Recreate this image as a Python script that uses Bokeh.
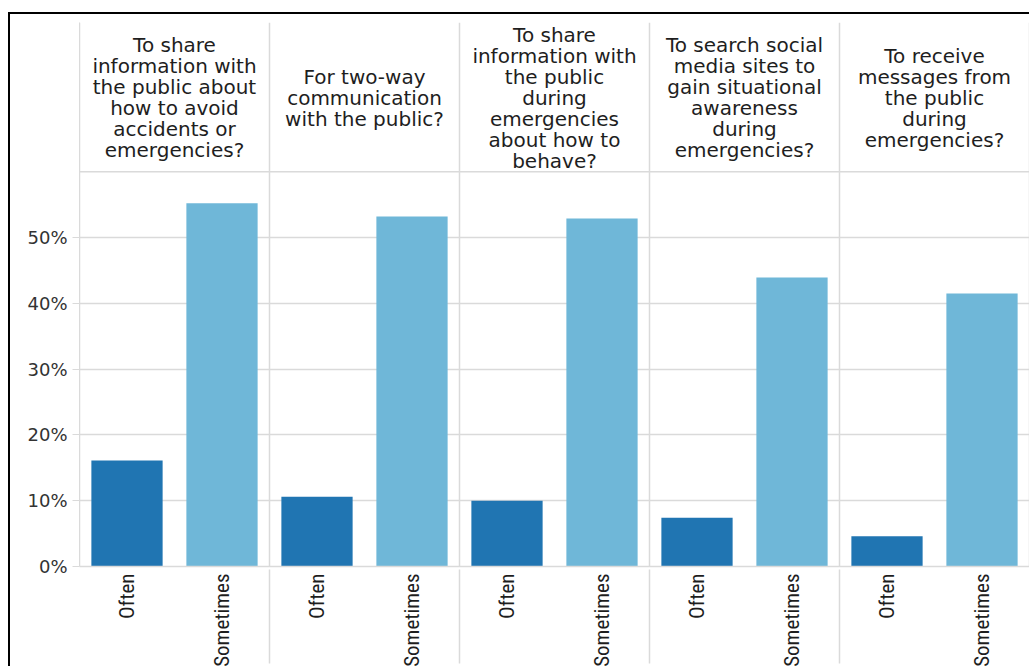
from math import pi
from bokeh.plotting import figure
from bokeh.models import FactorRange, Range1d, FixedTicker, NumeralTickFormatter, Span, ColumnDataSource
from bokeh.core.properties import value
from bokeh.embed import file_html
from bokeh.resources import INLINE

# ---- data ----
groups = ["Q1", "Q2", "Q3", "Q4", "Q5"]
headers = [
    "To share\ninformation with\nthe public about\nhow to avoid\naccidents or\nemergencies?",
    "For two-way\ncommunication\nwith the public?",
    "To share\ninformation with\nthe public\nduring\nemergencies\nabout how to\nbehave?",
    "To search social\nmedia sites to\ngain situational\nawareness\nduring\nemergencies?",
    "To receive\nmessages from\nthe public\nduring\nemergencies?",
]
categories = ["Often", "Sometimes"]
often = [0.161, 0.106, 0.100, 0.074, 0.046]
sometimes = [0.552, 0.532, 0.529, 0.439, 0.415]
y_ticks = [0, 0.1, 0.2, 0.3, 0.4, 0.5]

# ---- styles ----
C_OFTEN = "#2075b2"
C_SOMETIMES = "#6fb7d8"
GRID = "#dadada"

factors = [(g, c) for g in groups for c in categories]
x_range = FactorRange(factors=factors, group_padding=0, factor_padding=0,
                      subgroup_padding=0, range_padding=0)

p = figure(x_range=x_range, y_range=Range1d(0, 0.8267),
           frame_width=950, frame_height=544,
           min_border_left=69, min_border_right=0, min_border_top=8, min_border_bottom=100,
           output_backend="svg", toolbar_location=None, outline_line_color=None)
p.styles = {"border-top": "2px solid black", "border-left": "2px solid black",
            "margin-top": "12px", "margin-left": "8px"}

bar_x, bar_top, bar_color = [], [], []
for g, o, s in zip(groups, often, sometimes):
    bar_x += [(g, "Often"), (g, "Sometimes")]
    bar_top += [o, s]
    bar_color += [C_OFTEN, C_SOMETIMES]
bars = ColumnDataSource(dict(x=bar_x, top=bar_top, color=bar_color))
p.vbar(x="x", top="top", width=0.75, color="color", line_color=None, source=bars)

# panel separators and header rule
for i in range(len(groups) + 1):
    p.add_layout(Span(location=2 * i, dimension="height", line_color=GRID, line_width=1.5))
p.add_layout(Span(location=0.6, dimension="width", line_color=GRID, line_width=1.5))

hdr = ColumnDataSource(dict(x=[[g, "Often", 0.5] for g in groups],
                            y=[0.712] * len(groups), text=headers))
p.text(x="x", y="y", text="text", source=hdr, text_align="center", text_baseline="middle",
       text_font=value("DejaVu Sans"), text_font_size="20px", text_line_height=0.875,
       text_color="#1e1e1e")

# y axis
p.yaxis.ticker = FixedTicker(ticks=y_ticks)
p.yaxis.formatter = NumeralTickFormatter(format="0%")
p.yaxis.major_label_text_font = "DejaVu Sans"
p.yaxis.major_label_text_font_size = "18px"
p.yaxis.major_label_text_color = "#333333"
p.yaxis.axis_line_color = GRID
p.yaxis.major_tick_line_color = GRID
p.yaxis.major_tick_out = 7
p.yaxis.major_tick_in = 0
p.yaxis.minor_tick_line_color = None
p.yaxis.major_label_standoff = 5
p.ygrid.ticker = FixedTicker(ticks=y_ticks)
p.ygrid.grid_line_color = GRID
p.ygrid.grid_line_width = 1.5
p.xgrid.grid_line_color = None

# x axis
p.xaxis.major_label_orientation = pi / 2
p.xaxis.major_label_text_font = "Liberation Sans Narrow, Roboto Condensed, sans-serif"
p.xaxis.major_label_text_font_size = "21px"
p.xaxis.major_label_text_color = "#1e1e1e"
p.xaxis.major_label_standoff = 7
p.xaxis.major_tick_line_color = None
p.xaxis.major_tick_out = 0
p.xaxis.major_tick_in = 0
p.xaxis.axis_line_color = GRID
p.xaxis.axis_line_width = 1.5
p.xaxis.group_text_color = None
p.xaxis.group_text_font_size = "3px"
p.xaxis.separator_line_color = GRID
p.xaxis.separator_line_width = 1.5

open("out.html", "w").write(file_html(p, INLINE))
